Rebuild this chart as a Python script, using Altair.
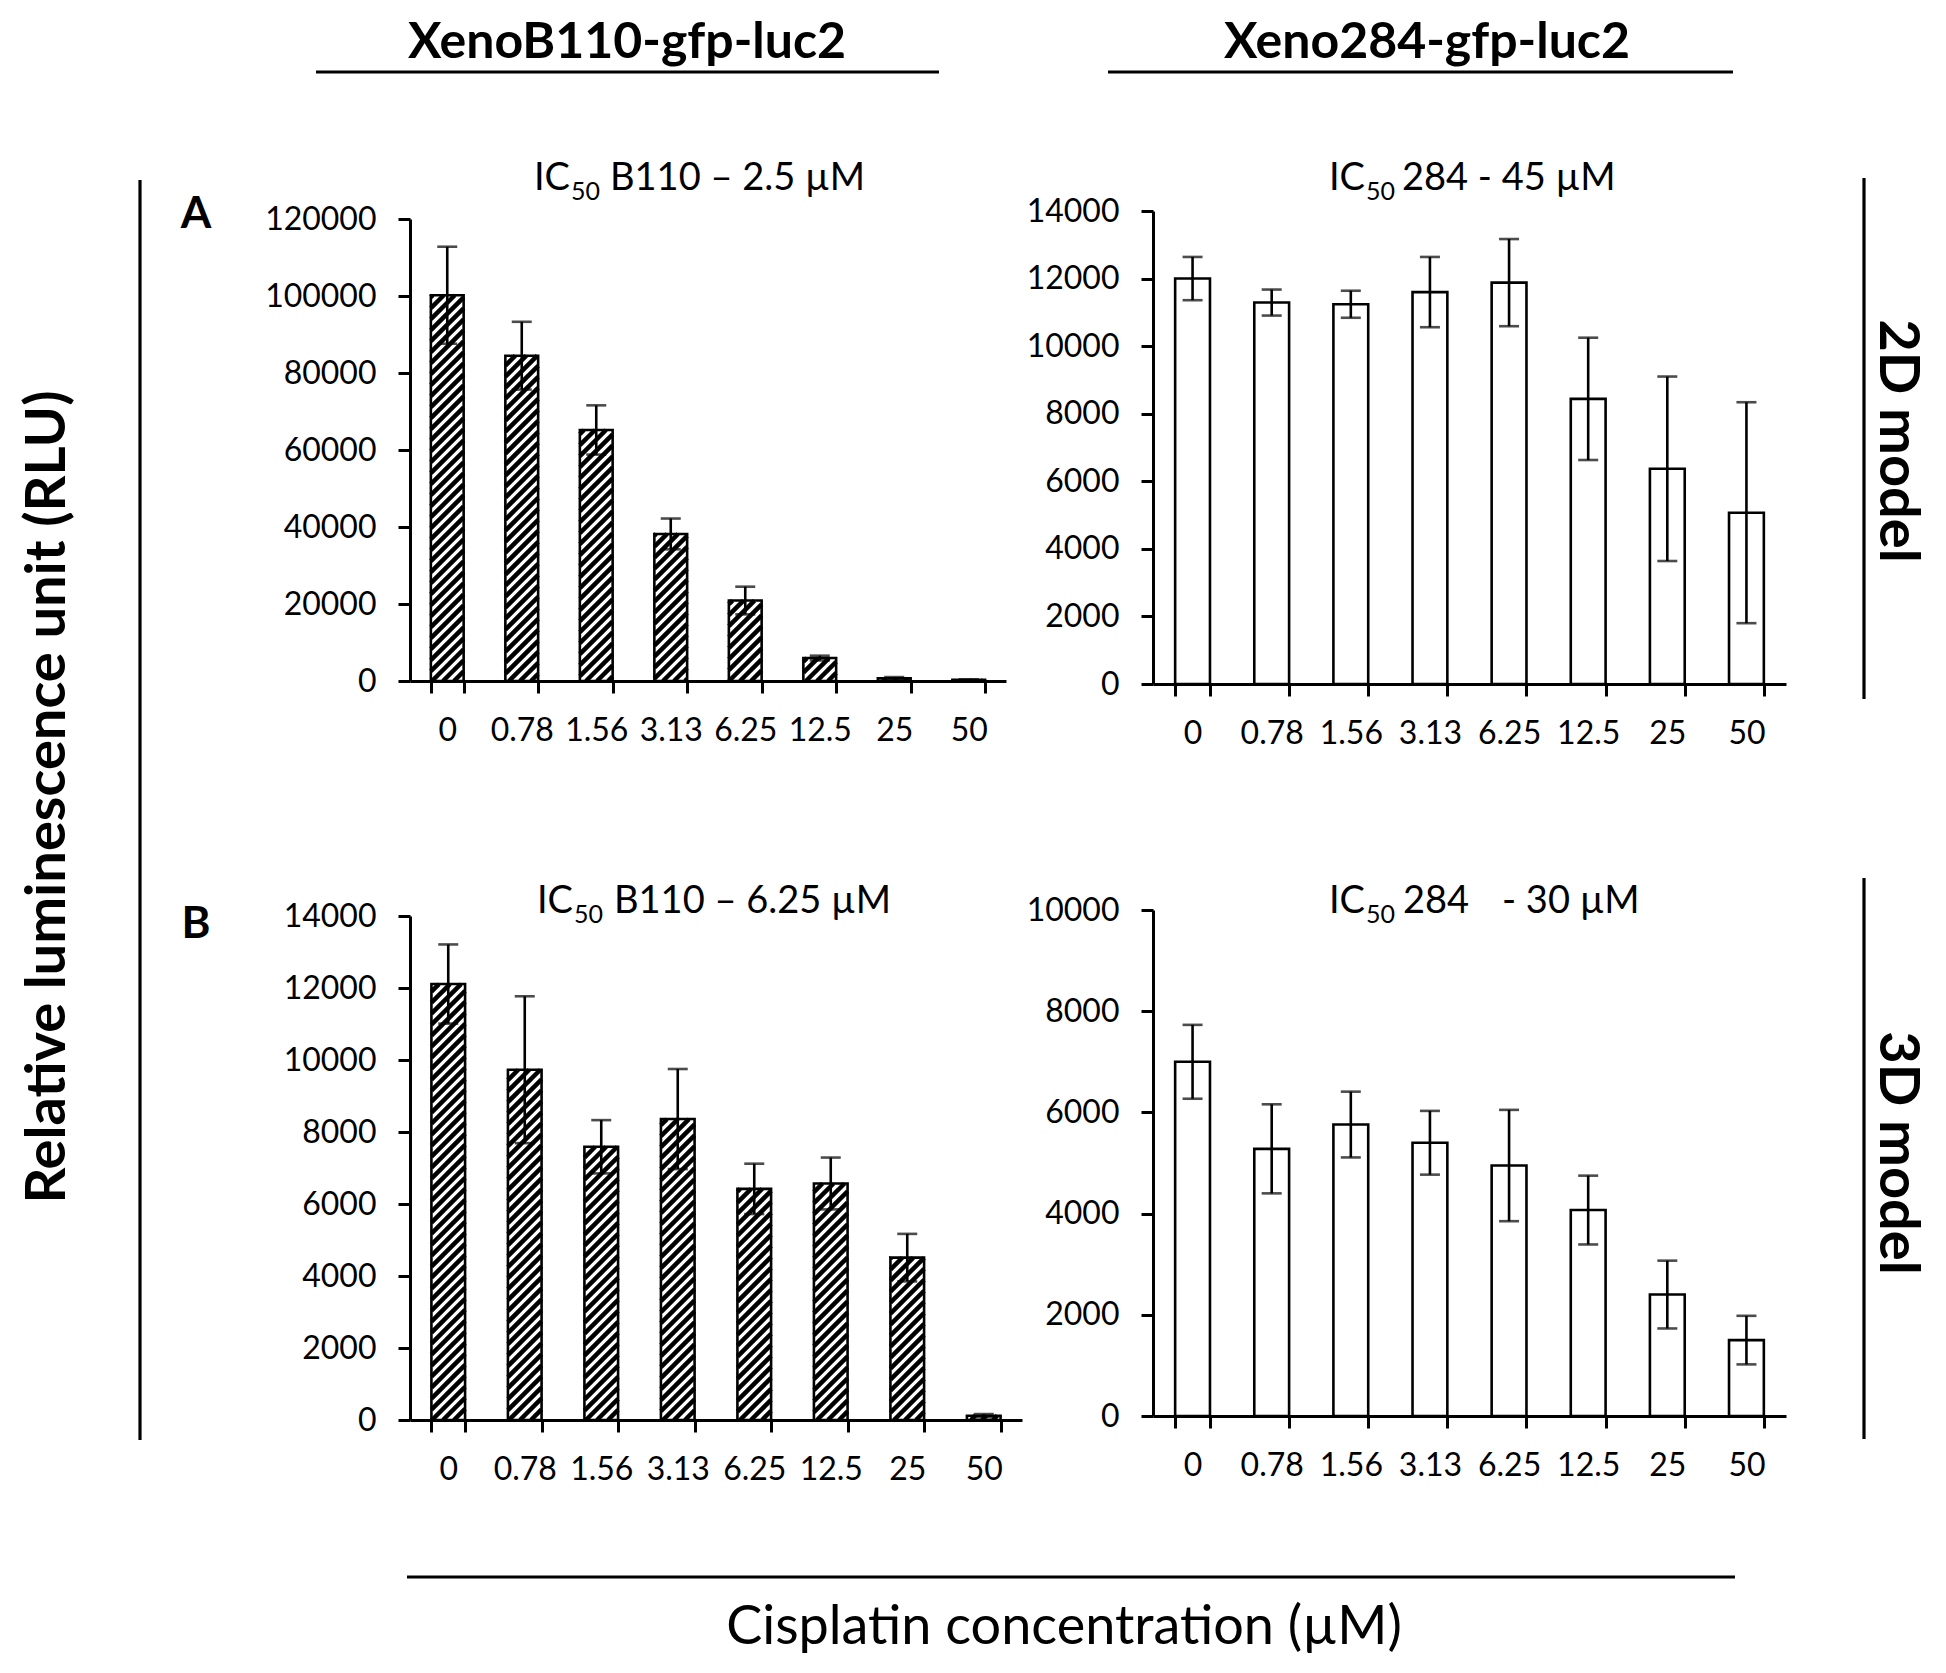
import altair as alt
import pandas as pd
import numpy as np

# ---------------- data ----------------
conc = ["0", "0.78", "1.56", "3.13", "6.25", "12.5", "25", "50"]

b110_2d = [100200, 84500, 65200, 38200, 20900, 5960, 720, 310]
b110_2d_err = [12600, 8800, 6400, 4000, 3600, 620, 300, 100]

x284_2d = [12000, 11290, 11240, 11600, 11880, 8440, 6370, 5070]
x284_2d_err = [640, 385, 400, 1040, 1290, 1810, 2730, 3270]

b110_3d = [12110, 9730, 7590, 8360, 6420, 6570, 4510, 120]
b110_3d_err = [1100, 2040, 740, 1390, 700, 720, 660, 45]

x284_3d = [7000, 5280, 5760, 5400, 4950, 4070, 2400, 1500]
x284_3d_err = [730, 880, 650, 630, 1100, 680, 670, 480]

# ---------------- style ----------------
FONT = "Lato"
PAD_IN = 0.56
PAD_OUT = 0.28
LW = 2.6
one = pd.DataFrame({"k": [0]})


def stripe_table(values, width, plot_h, ymax, period=11.0):
    n = len(values)
    step = width / n
    bw = step * (1 - PAD_IN)
    ypx = plot_h / ymax
    rows = []
    for i, v in enumerate(values):
        H = v * ypx
        left = (i + PAD_OUT) * step
        phase = left % period
        k0 = int(np.floor((-bw - phase) / period)) - 1
        k1 = int(np.ceil((H - phase) / period)) + 1
        for k in range(k0, k1 + 1):
            c = k * period + phase
            u0 = max(0.0, -c)
            u1 = min(bw, H - c)
            if u1 - u0 > 0.4:
                rows.append({
                    "sx": (left + u0) / step, "sy": (u0 + c) / ypx,
                    "sx2": (left + u1) / step, "sy2": (u1 + c) / ypx,
                })
    return pd.DataFrame(rows)


def panel(values, errs, ymax, ystep, width, height, yrange, hatched, extra=()):
    df = pd.DataFrame({"conc": conc, "value": values, "err": errs})
    df["lo"] = df["value"] - df["err"]
    df["hi"] = df["value"] + df["err"]
    yscale = alt.Scale(domain=[0, ymax], range=yrange, nice=False, zero=True)
    yaxis = alt.Axis(values=list(range(0, ymax + 1, ystep)), title=None, format="d")
    xscale = alt.Scale(domain=conc, paddingInner=PAD_IN, paddingOuter=PAD_OUT)
    x_axis = alt.X("conc:N", sort=conc, scale=xscale,
                   axis=alt.Axis(title=None, tickBand="extent", labelAngle=0, labelOverlap=False))
    x_noaxis = alt.X("conc:N", sort=conc, scale=xscale, axis=None)
    base = alt.Chart(df)

    outline = base.mark_bar(fillOpacity=0, stroke="black", strokeWidth=LW).encode(
        x=x_noaxis, y=alt.Y("value:Q", scale=yscale, axis=yaxis))
    rule = base.mark_rule(color="black", strokeWidth=LW).encode(
        x=x_noaxis, y=alt.Y("lo:Q", scale=yscale, axis=yaxis), y2="hi:Q")
    cap_hi = base.mark_tick(color="black", size=20, thickness=LW).encode(
        x=x_noaxis, y=alt.Y("hi:Q", scale=yscale, axis=yaxis))
    cap_lo = base.mark_tick(color="black", size=20, thickness=LW).encode(
        x=x_noaxis, y=alt.Y("lo:Q", scale=yscale, axis=yaxis))
    top = alt.layer(outline, rule, cap_hi, cap_lo)

    white = base.mark_bar(fill="white", strokeWidth=0).encode(
        x=x_axis, y=alt.Y("value:Q", scale=yscale, axis=yaxis))

    layers = [white]
    if hatched:
        plot_h = yrange[0] - yrange[1]
        st = stripe_table(values, width, plot_h, ymax)
        stripes = alt.Chart(st).mark_rule(color="black", strokeWidth=4.5, strokeCap="butt").encode(
            x=alt.X("sx:Q", scale=alt.Scale(domain=[0, len(conc)], nice=False, zero=False), axis=None),
            x2="sx2:Q",
            y=alt.Y("sy:Q", scale=yscale, axis=yaxis),
            y2="sy2:Q",
        )
        layers.append(stripes)
    layers.append(top)
    layers.extend(extra)
    return alt.layer(*layers).resolve_scale(x="independent").properties(width=width, height=height)


def txt(s, x, y, size, weight="normal", align="center", angle=0, baseline="alphabetic"):
    return alt.Chart(one).mark_text(
        text=s, font=FONT, fontSize=size, fontWeight=weight, align=align,
        baseline=baseline, angle=angle, color="black"
    ).encode(x=alt.value(x), y=alt.value(y))


def line(x1, x2, y1, y2, w=3.2):
    return alt.Chart(one).mark_rule(color="black", strokeWidth=w, strokeCap="butt").encode(
        x=alt.value(x1), x2=alt.value(x2), y=alt.value(y1), y2=alt.value(y2))


def anchor(x, y):
    return alt.Chart(one).mark_rect(color="white").encode(
        x=alt.value(x), x2=alt.value(x + 1), y=alt.value(y), y2=alt.value(y + 1))


def ic_title(x_ic_end, base_y, rest_parts):
    out = [
        txt("IC", x_ic_end, base_y, 38, align="right"),
        txt("50", x_ic_end + 1, base_y + 10, 25, align="left"),
    ]
    for s, x in rest_parts:
        out.append(txt(s, x, base_y, 38, align="left"))
    return out


# annotations, in coordinates relative to panel A's plot origin (page 410, 211)
annots = [
    anchor(-402, -203),
    anchor(1526, 1445),
    txt("XenoB110-gfp-luc2", 217, -153, 50, weight="bold"),
    txt("Xeno284-gfp-luc2", 1017, -153, 50, weight="bold"),
    line(-94, 529, -139, -139),
    line(698, 1323, -139, -139),
    line(-270, -270, -31, 1229),
    line(1454, 1454, -33, 488),
    line(1454, 1454, 667, 1228),
    line(-3, 1325, 1366, 1366),
    txt("Cisplatin concentration (µM)", 654, 1433, 54),
    txt("Relative luminescence unit (RLU)", -345, 586, 56, weight="bold", angle=270),
    txt("2D model", 1470, 230, 56, weight="bold", angle=90),
    txt("3D model", 1470, 942, 56, weight="bold", angle=90),
    txt("A", -214, 17, 44, weight="bold"),
    txt("B", -214, 727, 44, weight="bold"),
]
annots += ic_title(160, -21, [("B110 – 2.5 µM", 200)])
annots += ic_title(955, -21, [("284 - 45 µM", 992)])
annots += ic_title(163, 702, [("B110 – 6.25 µM", 204)])
annots += ic_title(955, 702, [("284", 993), ("- 30 µM", 1092)])

pA = panel(b110_2d, b110_2d_err, 120000, 20000, 596, 470, [470, 8], True, annots)
pTR = panel(x284_2d, x284_2d_err, 14000, 2000, 633, 473, [473, 0], False)
pB = panel(b110_3d, b110_3d_err, 14000, 2000, 612, 510, [510, 6], True)
pBR = panel(x284_3d, x284_3d_err, 10000, 2000, 633, 506, [506, 0], False)

chart = alt.concat(
    pA, pTR, pB, pBR,
    columns=2,
    spacing={"row": 226, "column": 131},
    bounds="flush",
    align="each",
).properties(padding=0).configure_view(strokeWidth=0).configure_axis(
    labelFont=FONT, labelFontSize=32, labelColor="black",
    domainColor="black", domainWidth=3, tickColor="black", tickWidth=3,
    tickSize=12, grid=False,
).configure_axisX(labelPadding=22).configure_axisY(labelPadding=22)

chart.save("out.html", embed_options={"renderer": "svg", "actions": False})
